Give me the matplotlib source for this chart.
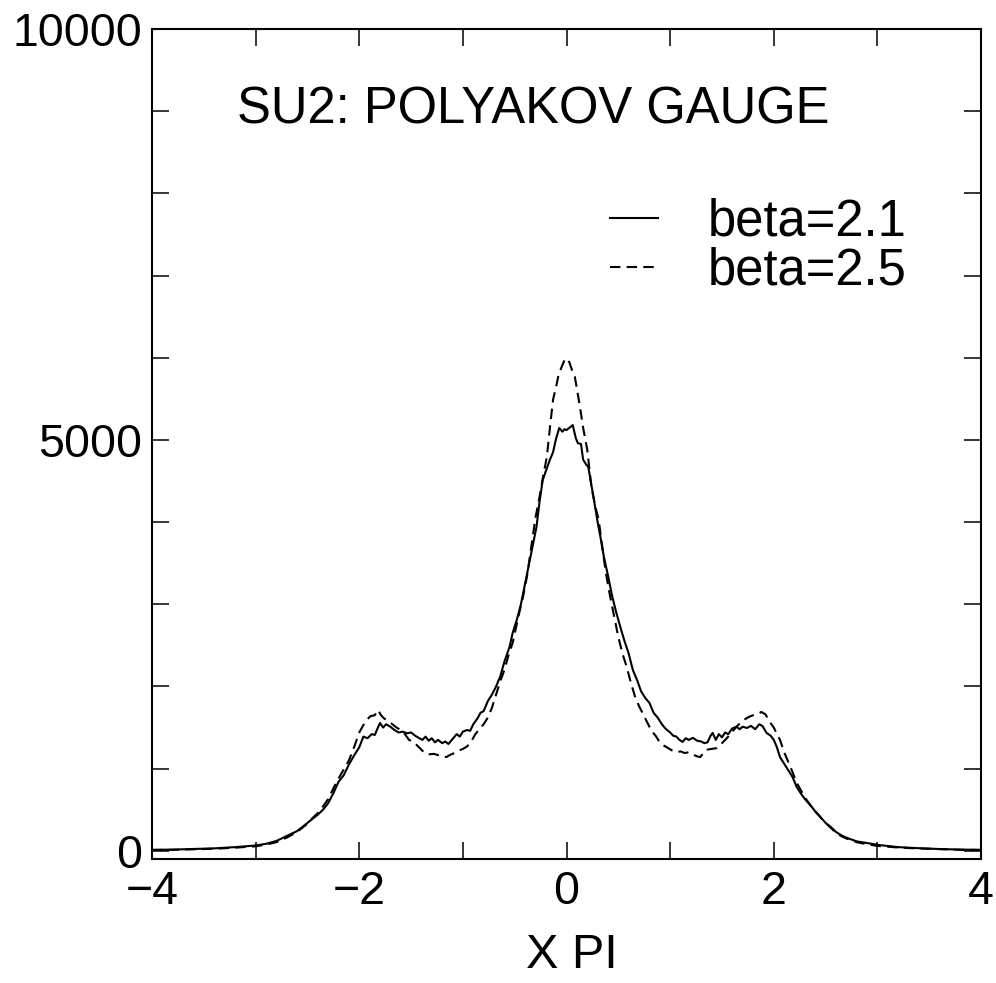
import matplotlib
matplotlib.use("Agg")
import matplotlib.pyplot as plt
from matplotlib.ticker import MultipleLocator, FixedLocator

plt.rcParams['font.family'] = ['Liberation Sans', 'DejaVu Sans']

# beta=2.1 (solid)
x_b21 = [-4.0, -3.8, -3.6, -3.4, -3.2, -3.0, -2.9, -2.8, -2.7, -2.6, -2.5, -2.45, -2.4, -2.35,
         -2.3, -2.25, -2.2, -2.15, -2.1, -2.05, -2.0, -1.96, -1.92, -1.88, -1.85, -1.82, -1.80,
         -1.77, -1.74, -1.70, -1.66, -1.62, -1.58, -1.54, -1.50, -1.46, -1.42, -1.39, -1.36,
         -1.33, -1.30, -1.27, -1.24, -1.20, -1.17, -1.14, -1.10, -1.06, -1.03, -1.00, -0.96,
         -0.93, -0.90, -0.86, -0.83, -0.80, -0.76, -0.72, -0.68, -0.64, -0.60, -0.55, -0.52,
         -0.48, -0.44, -0.40, -0.36, -0.32, -0.29, -0.26, -0.23, -0.20, -0.16, -0.13, -0.10,
         -0.07, -0.04, -0.02, 0.00, 0.03, 0.06, 0.09, 0.11, 0.14, 0.16, 0.19, 0.21, 0.24, 0.27,
         0.30, 0.33, 0.36, 0.40, 0.44, 0.48, 0.52, 0.56, 0.60, 0.64, 0.68, 0.72, 0.76, 0.80,
         0.84, 0.88, 0.92, 0.96, 1.00, 1.03, 1.06, 1.09, 1.12, 1.15, 1.18, 1.22, 1.26, 1.30,
         1.33, 1.36, 1.39, 1.41, 1.44, 1.47, 1.50, 1.53, 1.56, 1.60, 1.64, 1.67, 1.70, 1.74,
         1.78, 1.82, 1.86, 1.89, 1.93, 1.97, 2.00, 2.03, 2.06, 2.10, 2.14, 2.18, 2.22, 2.26,
         2.30, 2.35, 2.40, 2.45, 2.50, 2.55, 2.60, 2.65, 2.70, 2.80, 2.90, 3.00, 3.20, 3.40,
         3.60, 3.80, 4.00]
y_b21 = [12, 15, 22, 30, 45, 65, 85, 120, 180, 240, 340, 390, 440, 500,
         580, 700, 840, 920, 1050, 1160, 1260, 1390, 1370, 1420, 1410, 1500, 1555,
         1500, 1540, 1510, 1470, 1440, 1450, 1430, 1440, 1400, 1370, 1350, 1390,
         1340, 1370, 1320, 1350, 1310, 1330, 1300, 1360, 1420, 1390, 1450, 1470,
         1460, 1540, 1610, 1680, 1700, 1820, 1900, 2000, 2120, 2300, 2480, 2650,
         2810, 3000, 3250, 3500, 3750, 3940, 4250, 4510, 4620, 4760, 4850, 5020,
         5145, 5100, 5130, 5120, 5150, 5180, 5020, 4960, 4950, 4760, 4700, 4670, 4450, 4230,
         4000, 3800, 3580, 3350, 3100, 2900, 2720, 2550, 2400, 2200, 2080, 1940, 1860, 1800,
         1680, 1620, 1540, 1480, 1440, 1400, 1390, 1350, 1325, 1370, 1350, 1375, 1340, 1330,
         1310, 1320, 1400, 1435, 1350, 1420, 1380, 1440, 1420, 1490, 1510, 1480, 1510, 1495,
         1520, 1480, 1540, 1520, 1435, 1400, 1350, 1260, 1140, 1060, 980, 900, 780, 700,
         630, 560, 480, 410, 340, 290, 230, 190, 160, 115, 95, 73, 45, 32,
         22, 15, 12]

# beta=2.5 (dashed)
x_b25 = [-4.0, -3.8, -3.6, -3.4, -3.2, -3.0, -2.9, -2.8, -2.7, -2.6, -2.5, -2.45, -2.4, -2.35,
         -2.3, -2.25, -2.2, -2.15, -2.1, -2.05, -2.0, -1.96, -1.93, -1.89, -1.85, -1.82, -1.79,
         -1.76, -1.72, -1.68, -1.64, -1.60, -1.56, -1.52, -1.48, -1.44, -1.40, -1.36, -1.32,
         -1.28, -1.24, -1.20, -1.16, -1.12, -1.08, -1.04, -1.00, -0.96, -0.92, -0.88, -0.84,
         -0.80, -0.76, -0.72, -0.68, -0.64, -0.60, -0.56, -0.52, -0.48, -0.45, -0.42, -0.38,
         -0.34, -0.30, -0.26, -0.22, -0.19, -0.16, -0.13, -0.10, -0.08, -0.05, -0.02, 0.00,
         0.02, 0.05, 0.08, 0.11, 0.13, 0.16, 0.20, 0.24, 0.28, 0.31, 0.35, 0.38, 0.42, 0.46,
         0.50, 0.54, 0.58, 0.62, 0.66, 0.70, 0.74, 0.78, 0.82, 0.86, 0.90, 0.94, 0.98, 1.02,
         1.06, 1.10, 1.14, 1.18, 1.22, 1.26, 1.29, 1.32, 1.35, 1.40, 1.45, 1.50, 1.55, 1.60,
         1.64, 1.68, 1.72, 1.76, 1.80, 1.84, 1.88, 1.92, 1.96, 2.00, 2.03, 2.06, 2.10, 2.14,
         2.18, 2.22, 2.26, 2.30, 2.35, 2.40, 2.45, 2.50, 2.55, 2.60, 2.65, 2.70, 2.80, 2.90,
         3.00, 3.20, 3.40, 3.60, 3.80, 4.00]
y_b25 = [10, 12, 18, 25, 38, 55, 75, 105, 160, 230, 330, 400, 460, 540,
         630, 760, 880, 990, 1100, 1260, 1440, 1530, 1590, 1640, 1650, 1715, 1650,
         1610, 1580, 1540, 1500, 1470, 1420, 1350, 1330, 1280, 1230, 1180, 1175,
         1180, 1165, 1160, 1140, 1170, 1190, 1220, 1240, 1270, 1330, 1420, 1480,
         1540, 1620, 1740, 1900, 2060, 2200, 2380, 2530, 2760, 2930, 3090, 3350,
         3700, 4050, 4310, 4600, 4790, 5150, 5490, 5650, 5770, 5880, 5970, 5990,
         5970, 5860, 5770, 5550, 5400, 5150, 4880, 4430, 4180, 4030, 3650, 3380, 3100, 2850,
         2600, 2400, 2240, 2050, 1880, 1760, 1660, 1560, 1460, 1400, 1320, 1280, 1250, 1220,
         1200, 1210, 1190, 1200, 1170, 1150, 1140, 1190, 1230, 1240, 1250, 1310, 1375, 1450,
         1510, 1560, 1600, 1630, 1650, 1660, 1690, 1660, 1570, 1500, 1420, 1350, 1200, 1080,
         960, 830, 740, 650, 560, 480, 410, 340, 280, 220, 180, 150, 105, 80,
         60, 40, 28, 20, 13, 10]

labels = ['beta=2.1', 'beta=2.5']
x_ticks = [-4, -2, 0, 2, 4]
y_ticks = [0, 5000, 10000]

FS_TICK = 33.5
FS_TEXT = 36.5

fig = plt.figure(figsize=(9.96, 9.83), dpi=100)
ax = fig.add_axes([0.1526, 0.1261, 0.8324, 0.8444])

ax.plot(x_b21, y_b21, color='black', lw=1.5, label=labels[0])
ax.plot(x_b25, y_b25, color='black', lw=1.5, dashes=(5, 3), label=labels[1])

ax.set_xlim(-4, 4)
ax.set_ylim(-100, 10000)
ax.xaxis.set_major_locator(FixedLocator(x_ticks))
ax.xaxis.set_minor_locator(MultipleLocator(1))
ax.yaxis.set_major_locator(FixedLocator(y_ticks))
ax.yaxis.set_minor_locator(MultipleLocator(1000))
ax.tick_params(which='both', direction='in', top=True, right=True,
               length=12, width=1.1, labelsize=FS_TICK)
ax.tick_params(axis='x', which='major', pad=8)
ax.tick_params(axis='y', which='major', pad=7)
for s in ax.spines.values():
    s.set_linewidth(1.5)

ax.set_xlabel('X PI', fontsize=35)
ax.xaxis.set_label_coords(0.507, -0.089)
ax.text(0.46, 0.902, 'SU2: POLYAKOV GAUGE', transform=ax.transAxes,
        fontsize=FS_TEXT, ha='center', va='center')

ax.legend(loc='upper right', bbox_to_anchor=(0.91, 0.797), frameon=False,
          fontsize=FS_TEXT, handlelength=0.95, handletextpad=0.98, labelspacing=0.0,
          borderpad=0, borderaxespad=0)

fig.savefig('out.png', dpi=100)
